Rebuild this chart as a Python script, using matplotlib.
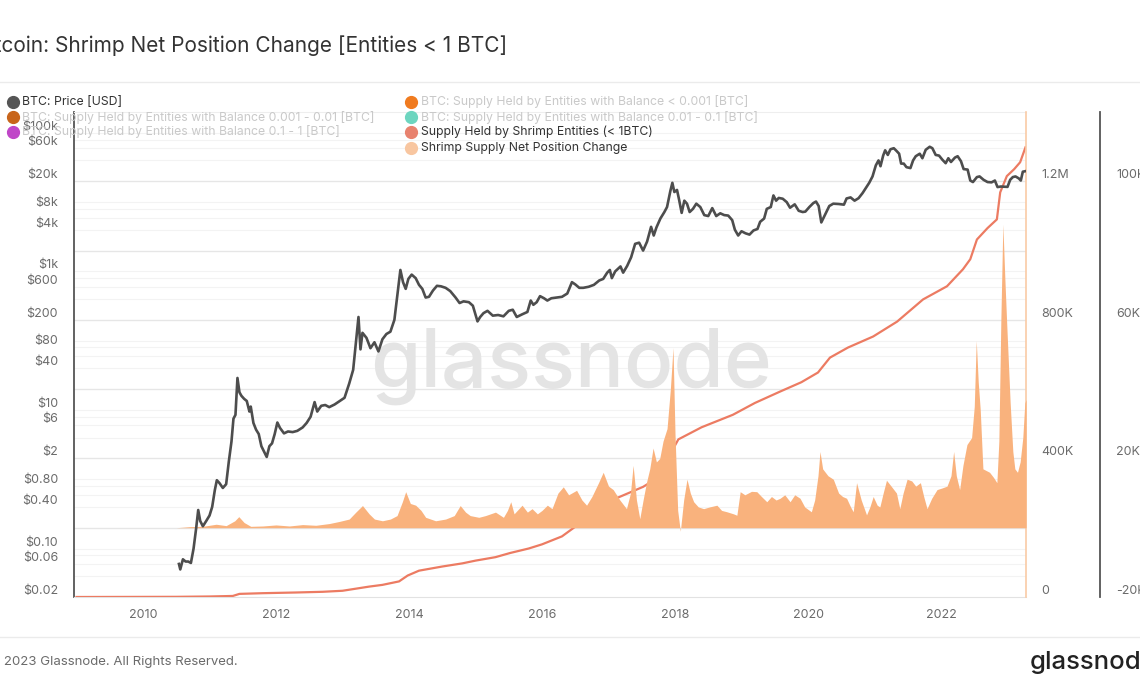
import matplotlib
matplotlib.use("Agg")
import matplotlib.pyplot as plt
from matplotlib.lines import Line2D
import numpy as np

plt.rcParams['font.family'] = ['Inter', 'DejaVu Sans']

# ---------------- data ----------------
price_years = [2010.54, 2010.56, 2010.60, 2010.64, 2010.68, 2010.72, 2010.76, 2010.80, 2010.83, 2010.86,
               2010.90, 2010.95, 2011.00, 2011.04, 2011.08, 2011.11, 2011.15, 2011.20, 2011.25, 2011.29,
               2011.33, 2011.36, 2011.39, 2011.42, 2011.45, 2011.48, 2011.52, 2011.56, 2011.60, 2011.62,
               2011.66, 2011.70, 2011.74, 2011.78, 2011.82, 2011.86, 2011.90, 2011.94, 2011.98, 2012.02,
               2012.06, 2012.12, 2012.18, 2012.25, 2012.32, 2012.40, 2012.46, 2012.52, 2012.58, 2012.62,
               2012.68, 2012.74, 2012.80, 2012.88, 2012.95, 2013.03, 2013.10, 2013.16, 2013.20, 2013.24,
               2013.27, 2013.30, 2013.36, 2013.42, 2013.48, 2013.54, 2013.60, 2013.66, 2013.72, 2013.78,
               2013.83, 2013.87, 2013.91, 2013.95, 2013.99, 2014.04, 2014.10, 2014.15, 2014.20, 2014.25,
               2014.30, 2014.36, 2014.42, 2014.48, 2014.55, 2014.62, 2014.70, 2014.76, 2014.82, 2014.90,
               2014.96, 2015.03, 2015.07, 2015.12, 2015.18, 2015.26, 2015.34, 2015.42, 2015.50, 2015.56,
               2015.62, 2015.70, 2015.78, 2015.83, 2015.87, 2015.92, 2015.97, 2016.03, 2016.08, 2016.14,
               2016.22, 2016.30, 2016.38, 2016.45, 2016.50, 2016.56, 2016.62, 2016.70, 2016.78, 2016.86,
               2016.92, 2016.98, 2017.02, 2017.05, 2017.10, 2017.18, 2017.22, 2017.28, 2017.34, 2017.40,
               2017.46, 2017.52, 2017.58, 2017.64, 2017.68, 2017.72, 2017.78, 2017.84, 2017.88, 2017.93,
               2017.96, 2017.99, 2018.03, 2018.06, 2018.10, 2018.14, 2018.18, 2018.22, 2018.27, 2018.32,
               2018.38, 2018.44, 2018.50, 2018.56, 2018.62, 2018.68, 2018.74, 2018.80, 2018.86, 2018.90,
               2018.95, 2019.00, 2019.06, 2019.12, 2019.18, 2019.24, 2019.28, 2019.34, 2019.38, 2019.44,
               2019.48, 2019.52, 2019.56, 2019.62, 2019.68, 2019.73, 2019.80, 2019.86, 2019.92, 2019.96,
               2020.02, 2020.08, 2020.12, 2020.16, 2020.20, 2020.26, 2020.32, 2020.38, 2020.46, 2020.54,
               2020.58, 2020.64, 2020.70, 2020.76, 2020.82, 2020.87, 2020.92, 2020.97, 2021.02, 2021.06,
               2021.09, 2021.13, 2021.16, 2021.20, 2021.24, 2021.29, 2021.33, 2021.37, 2021.40, 2021.44,
               2021.48, 2021.54, 2021.58, 2021.62, 2021.68, 2021.72, 2021.77, 2021.83, 2021.87, 2021.92,
               2021.97, 2022.02, 2022.07, 2022.11, 2022.15, 2022.21, 2022.25, 2022.30, 2022.34, 2022.40,
               2022.44, 2022.48, 2022.54, 2022.58, 2022.64, 2022.70, 2022.76, 2022.81, 2022.85, 2022.90,
               2022.96, 2023.00, 2023.04, 2023.08, 2023.12, 2023.17, 2023.20, 2023.23, 2023.27]
price_usd = [0.06, 0.05, 0.07, 0.065, 0.065, 0.062, 0.10, 0.20, 0.36, 0.25,
             0.21, 0.25, 0.30, 0.40, 0.70, 0.97, 0.88, 0.75, 0.85, 1.8,
             3.5, 7.5, 8.5, 29, 18, 16, 14.5, 13.5, 9.5, 11.2,
             6.5, 5.2, 4.5, 3.0, 2.5, 2.1, 3.0, 3.3, 4.5, 6.6,
             5.5, 4.6, 4.9, 4.8, 5.0, 5.6, 6.5, 8.0, 13.0, 9.5,
             11.5, 11.8, 11.0, 12.0, 13.3, 15, 24, 38, 90, 220,
             75, 130, 110, 78, 95, 70, 105, 125, 135, 200,
             500, 1050, 700, 560, 780, 900, 800, 640, 560, 420,
             430, 530, 620, 610, 580, 520, 420, 350, 370, 360,
             320, 190, 220, 250, 270, 230, 235, 225, 270, 280,
             220, 240, 260, 380, 330, 360, 440, 410, 380, 410,
             420, 430, 480, 700, 650, 580, 580, 600, 640, 740,
             780, 960, 1050, 800, 1000, 1180, 960, 1200, 1600, 2500,
             2600, 2000, 2700, 4400, 3300, 4300, 5800, 7200, 8500, 14500,
             19000, 14000, 15000, 11000, 7000, 10500, 9500, 7200, 8000, 9500,
             8500, 6500, 6300, 8200, 6300, 6900, 6500, 6400, 5500, 4000,
             3300, 3800, 3550, 3400, 3900, 4100, 5200, 5800, 8000, 8500,
             12500, 10500, 11500, 11200, 10000, 8300, 9300, 7500, 7200, 7300,
             8500, 9700, 10200, 8800, 5100, 6700, 8800, 9500, 9400, 9200,
             11300, 11700, 10500, 11400, 13500, 16000, 19000, 23500, 34000, 40000,
             33000, 47000, 56000, 48000, 58000, 60000, 55000, 50000, 36000, 36000,
             32000, 31000, 40000, 46000, 50000, 43000, 57000, 63000, 60000, 48000,
             47000, 41000, 36500, 43000, 38000, 44000, 46000, 39000, 30000, 29500,
             20500, 19500, 23000, 23500, 21000, 19500, 19300, 20500, 16500, 16800,
             16700, 16600, 21000, 23000, 23500, 22000, 20500, 27500, 28000]

supply_years = [2009.00, 2010.50, 2011.00, 2011.35, 2011.45, 2011.80, 2012.30, 2012.70, 2013.00, 2013.20,
                2013.40, 2013.60, 2013.85, 2013.98, 2014.15, 2014.50, 2014.80, 2015.00, 2015.30, 2015.52,
                2015.80, 2016.00, 2016.30, 2016.50, 2016.80, 2017.13, 2017.52, 2017.75, 2017.95, 2018.05,
                2018.40, 2018.87, 2019.20, 2019.58, 2019.90, 2020.15, 2020.33, 2020.60, 2020.98, 2021.34,
                2021.73, 2022.09, 2022.33, 2022.44, 2022.54, 2022.70, 2022.84, 2022.89, 2022.99, 2023.10,
                2023.19, 2023.27]
supply_btc = [0, 500, 1500, 3000, 9000, 11000, 13000, 15000, 18000, 24000,
              30000, 35000, 45000, 62000, 76000, 88000, 97000, 105000, 115000, 127000,
              140000, 152000, 175000, 203000, 240000, 286000, 318000, 345000, 420000, 455000,
              490000, 526000, 560000, 593000, 620000, 648000, 691000, 720000, 752000, 795000,
              859000, 897000, 946000, 975000, 1032000, 1065000, 1090000, 1168000, 1215000, 1235000,
              1255000, 1298000]

net_years = [2010.50, 2010.70, 2010.90, 2011.10, 2011.25, 2011.38, 2011.44, 2011.52, 2011.62, 2011.80,
             2012.00, 2012.20, 2012.40, 2012.60, 2012.80, 2012.95, 2013.10, 2013.20, 2013.30, 2013.40,
             2013.48, 2013.60, 2013.72, 2013.82, 2013.90, 2013.95, 2014.02, 2014.10, 2014.18, 2014.25,
             2014.40, 2014.55, 2014.68, 2014.77, 2014.85, 2014.92, 2015.05, 2015.15, 2015.30, 2015.42,
             2015.48, 2015.53, 2015.58, 2015.70, 2015.78, 2015.85, 2015.93, 2016.00, 2016.08, 2016.15,
             2016.24, 2016.32, 2016.40, 2016.52, 2016.60, 2016.67, 2016.75, 2016.85, 2016.92, 2017.00,
             2017.07, 2017.17, 2017.27, 2017.33, 2017.37, 2017.42, 2017.47, 2017.52, 2017.57, 2017.62,
             2017.67, 2017.72, 2017.77, 2017.82, 2017.88, 2017.93, 2017.97, 2018.00, 2018.04, 2018.08,
             2018.13, 2018.18, 2018.23, 2018.28, 2018.35, 2018.43, 2018.52, 2018.63, 2018.70, 2018.78,
             2018.88, 2018.93, 2018.98, 2019.05, 2019.15, 2019.23, 2019.30, 2019.38, 2019.45, 2019.52,
             2019.58, 2019.65, 2019.73, 2019.80, 2019.88, 2019.95, 2020.05, 2020.10, 2020.15, 2020.18,
             2020.22, 2020.30, 2020.38, 2020.46, 2020.52, 2020.58, 2020.64, 2020.68, 2020.73, 2020.80,
             2020.88, 2020.93, 2020.98, 2021.04, 2021.08, 2021.13, 2021.18, 2021.25, 2021.33, 2021.38,
             2021.43, 2021.49, 2021.56, 2021.62, 2021.69, 2021.74, 2021.79, 2021.86, 2021.94, 2022.02,
             2022.09, 2022.15, 2022.19, 2022.23, 2022.28, 2022.33, 2022.39, 2022.46, 2022.50, 2022.53,
             2022.56, 2022.59, 2022.63, 2022.68, 2022.73, 2022.79, 2022.84, 2022.87, 2022.90, 2022.93,
             2022.96, 2022.99, 2023.04, 2023.08, 2023.11, 2023.15, 2023.19, 2023.23, 2023.26, 2023.28]
net_btc = [0, 300, 400, 1000, 600, 2000, 3200, 1500, 400, 500,
           800, 500, 900, 700, 1200, 1800, 2500, 4500, 6400, 4000,
           2500, 2000, 2500, 3500, 7500, 10400, 7000, 6500, 5000, 3000,
           2000, 2500, 3500, 6400, 4500, 3500, 3000, 3500, 4500, 3000,
           5000, 7500, 4000, 6500, 4500, 5500, 4000, 5000, 6500, 5500,
           10000, 11800, 9500, 10800, 8000, 6500, 9000, 13000, 16000, 12000,
           11000, 8000, 5500, 10000, 18000, 8000, 2600, 8000, 13000, 17000,
           23000, 19000, 20000, 25000, 28600, 40000, 52000, 27000, 5000, -1000,
           8000, 14000, 10000, 7500, 6000, 5500, 6000, 6500, 5000, 4600,
           4000, 3600, 10400, 9500, 10500, 10400, 9000, 7500, 9000, 8000,
           8500, 9500, 7500, 9500, 8500, 6000, 4600, 8000, 15000, 22000,
           17000, 15000, 14000, 10000, 9000, 8500, 6000, 4600, 13000, 8000,
           3700, 6000, 9000, 6500, 6000, 10000, 13700, 12000, 10000, 5500,
           10000, 14000, 13500, 12000, 13000, 9000, 5500, 8500, 11000, 11500,
           12000, 15000, 22000, 15000, 11000, 18000, 24000, 26000, 35000, 54000,
           42000, 34000, 17000, 16500, 16000, 14500, 13000, 25000, 60000, 87600,
           72000, 58000, 36000, 22000, 17000, 16000, 19000, 26000, 36000, 37000]

year_ticks = [2010, 2012, 2014, 2016, 2018, 2020, 2022]
price_ticks = [0.02, 0.06, 0.1, 0.4, 0.8, 2, 6, 10, 40, 80, 200, 600, 1000, 4000, 8000, 20000, 60000, 100000]
price_tick_labels = ['$0.02', '$0.06', '$0.10', '$0.40', '$0.80', '$2', '$6', '$10', '$40', '$80',
                     '$200', '$600', '$1k', '$4k', '$8k', '$20k', '$60k', '$100k']
supply_ticks = [0, 400000, 800000, 1200000]
supply_tick_labels = ['0', '400K', '800K', '1.2M']
net_ticks = [-20000, 20000, 60000, 100000]
net_tick_labels = ['-20K', '20K', '60K', '100K']

legend_labels = [
    ("BTC: Price [USD]", '#555555', True),
    ("BTC: Supply Held by Entities with Balance 0.001 - 0.01 [BTC]", '#c8651b', False),
    ("BTC: Supply Held by Entities with Balance 0.1 - 1 [BTC]", '#c046c8', False),
    ("BTC: Supply Held by Entities with Balance < 0.001 [BTC]", '#f07b1f', False),
    ("BTC: Supply Held by Entities with Balance 0.01 - 0.1 [BTC]", '#6dd5bf', False),
    ("Supply Held by Shrimp Entities (< 1BTC)", '#e8826e', True),
    ("Shrimp Supply Net Position Change", '#f8c6a0', True),
]

# ---------------- figure ----------------
W, H = 1140, 694
fig = plt.figure(figsize=(W / 100, H / 100), dpi=100)
fig.patch.set_facecolor('white')

def fx(px):
    return px / W

def fy(py):
    return 1 - py / H

L, R, T, B = 74, 1026, 112, 597
rect = [fx(L), fy(B), fx(R - L), (B - T) / H]

XMIN, XMAX = 2008.962, 2023.278
PMIN, PMAX = 0.02, 200000

ax = fig.add_axes(rect)
ax.set_xlim(XMIN, XMAX)
ax.set_yscale('log')
ax.set_ylim(PMIN, PMAX)
ax.patch.set_alpha(0)

# gridlines (log decades + minor multiples)
base = PMIN
while base < PMAX * 0.99:
    if base > PMIN * 1.01:
        ax.axhline(base, color='#e6e6e6', lw=1.0, zorder=0)
    for k in (2, 3, 4, 5):
        ax.axhline(base * k, color='#f3f3f3', lw=0.8, zorder=0)
    base *= 10

ax.set_yticks(price_ticks, labels=price_tick_labels)
ax.yaxis.set_minor_locator(matplotlib.ticker.NullLocator())
ax.tick_params(axis='y', length=0, pad=11.5, labelsize=9, labelcolor='#6b6b6b')
ax.set_xticks(year_ticks, labels=[str(y) for y in year_ticks])
ax.tick_params(axis='x', length=0, pad=8.5, labelsize=9, labelcolor='#6b6b6b')
ax.spines['left'].set_color('#555555')
ax.spines['left'].set_linewidth(1.3)
ax.spines['top'].set_color('#eeeeee')
ax.spines['bottom'].set_color('#e2e2e2')
ax.spines['right'].set_visible(False)

# watermark
wm = ax.text(fx(571), fy(387), 'glassnode', transform=fig.transFigure, ha='center', va='baseline',
             fontsize=72, color='#e4e4e4', fontweight='medium', zorder=1)
renderer = fig.canvas.get_renderer()
w0 = wm.get_window_extent(renderer).width
wm.set_fontsize(72 * 402 / w0)

# supply axis (middle right)
ax_s = ax.twinx()
ax_s.set_ylim(0, 1400000)
ax_s.plot(supply_years, supply_btc, color='#ec7b62', lw=1.6, zorder=2)
ax_s.set_yticks(supply_ticks, labels=supply_tick_labels)
ax_s.tick_params(axis='y', length=0, pad=10.8, labelsize=9, labelcolor='#6b6b6b')
for s in ('left', 'top', 'bottom'):
    ax_s.spines[s].set_visible(False)
ax_s.spines['right'].set_color('#f9cba6')
ax_s.spines['right'].set_linewidth(1.2)

# net position axis (far right)
ax_n = ax.twinx()
ax_n.spines['right'].set_position(('axes', (1100 - L) / (R - L)))
ax_n.set_ylim(-20000, 120000)
ax_n.fill_between(net_years, 0, net_btc, color='#f9b27d', lw=0, zorder=2)
ax_n.set_yticks(net_ticks, labels=net_tick_labels)
ax_n.tick_params(axis='y', length=0, pad=11.5, labelsize=9, labelcolor='#6b6b6b')
for s in ('left', 'top', 'bottom'):
    ax_n.spines[s].set_visible(False)
ax_n.spines['right'].set_color('#555555')
ax_n.spines['right'].set_linewidth(1.3)

# labels sit just above their gridline, as in the reference
for a in (ax, ax_s, ax_n):
    for t in a.yaxis.get_major_ticks():
        t.label1.set_verticalalignment('bottom')
        t.label2.set_verticalalignment('bottom')

# price axis (on top)
ax_p = ax.twinx()
ax_p.set_yscale('log')
ax_p.set_ylim(PMIN, PMAX)
ax_p.set_xlim(XMIN, XMAX)
ax_p.plot(price_years, price_usd, color='#4d4d4d', lw=1.9, zorder=3)
ax_p.set_yticks([])
ax_p.yaxis.set_minor_locator(matplotlib.ticker.NullLocator())
for s in ax_p.spines.values():
    s.set_visible(False)

# ---------------- header / legend / footer ----------------
fig.text(fx(507), fy(46), 'Bitcoin: Shrimp Net Position Change [Entities < 1 BTC]',
         ha='right', va='center', fontsize=15, color='#333333')
fig.add_artist(Line2D([0, 1], [fy(82), fy(82)], transform=fig.transFigure, color='#ebebeb', lw=1))
fig.add_artist(Line2D([0, 1], [fy(637), fy(637)], transform=fig.transFigure, color='#ebebeb', lw=1))

col_x = [(13, 22), (411, 421)]
rows = [102, 117, 132, 148]
positions = [(0, 0), (0, 1), (0, 2), (1, 0), (1, 1), (1, 2), (1, 3)]
for (label, mcol, active), (c, r) in zip(legend_labels, positions):
    mx, tx = col_x[c]
    y = rows[r]
    fig.add_artist(Line2D([fx(mx)], [fy(y)], transform=fig.transFigure, marker='o', ms=8.5,
                          mfc=mcol, mec=mcol, lw=0))
    fig.text(fx(tx), fy(y), label, ha='left', va='center', fontsize=8.8,
             color='#333333' if active else '#c9c9c9')

fig.text(fx(238), fy(662), '© 2023 Glassnode. All Rights Reserved.', ha='right', va='center',
         fontsize=9.5, color='#6b6b6b')
fig.text(fx(1030), fy(662), 'glassnode', ha='left', va='center', fontsize=18.5,
         color='#222222', fontweight='medium')

fig.savefig('out.png', dpi=100, facecolor='white')
